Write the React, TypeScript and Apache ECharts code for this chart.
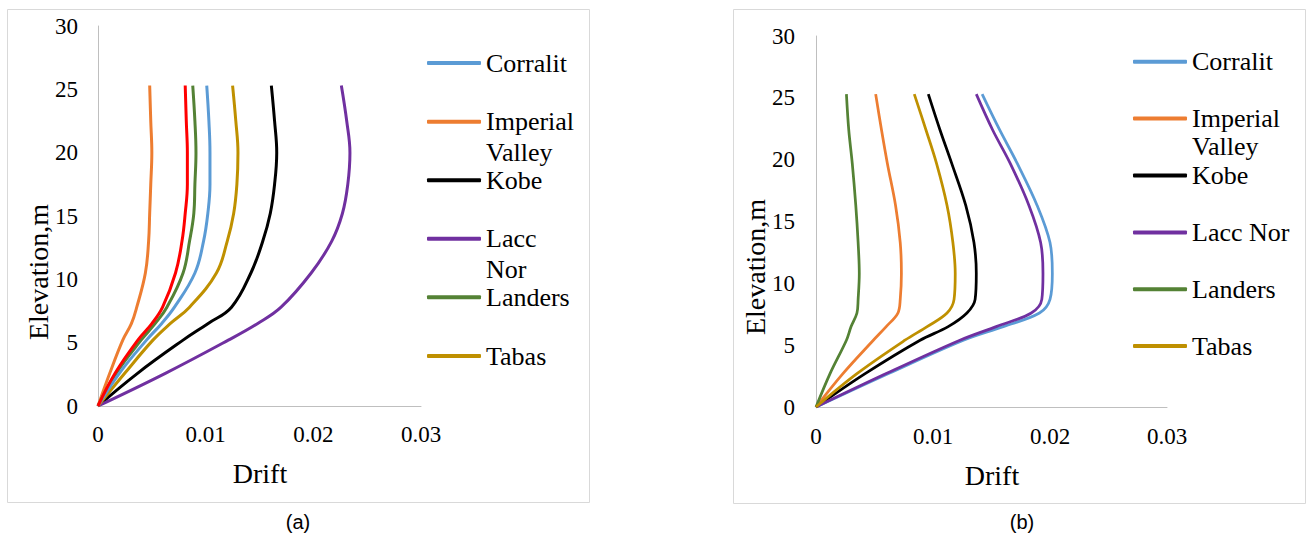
import React, { useEffect, useRef } from "react";
import * as echarts from "echarts";

const seriesNames = ["Corralit", "Imperial Valley", "Kobe", "Lacc Nor", "Landers", "Tabas"];
const seriesColors = ["#5B9BD5", "#ED7D31", "#000000", "#7030A0", "#548235", "#BF9000"];
const extraName = "Unlabeled";
const extraColor = "#FF0000";

const yTicks = { min: 0, max: 30, interval: 5 };
const xTicks = { min: 0, max: 0.03, interval: 0.01 };

// Chart (a)
const elevA = [0, 2.6, 5.2, 6.5, 7.8, 10.5, 13, 15.2, 17.5, 20, 22.5, 25.3];
const corralitA = [0, 0.002, 0.0045, 0.0059, 0.0071, 0.009, 0.0098, 0.0102, 0.0104, 0.0104, 0.0103, 0.0101];
const imperialA = [0, 0.0011, 0.0023, 0.0031, 0.0036, 0.0044, 0.0047, 0.0048, 0.0049, 0.005, 0.0049, 0.0048];
const kobeA = [0, 0.0037, 0.0079, 0.0102, 0.0124, 0.0142, 0.0153, 0.016, 0.0164, 0.0166, 0.0164, 0.0161];
const laccA = [0, 0.0063, 0.0121, 0.0148, 0.017, 0.0198, 0.0217, 0.0227, 0.0232, 0.0234, 0.0231, 0.0226];
const landersA = [0, 0.0017, 0.004, 0.0053, 0.0064, 0.0079, 0.0085, 0.0089, 0.009, 0.0091, 0.009, 0.0088];
const tabasA = [0, 0.0025, 0.0051, 0.0067, 0.0085, 0.011, 0.012, 0.0126, 0.0129, 0.013, 0.0128, 0.0125];
const redA = [0, 0.0016, 0.0037, 0.005, 0.006, 0.0072, 0.0078, 0.0081, 0.0083, 0.0083, 0.0082, 0.0081];

// Chart (b)
const elevB = [0, 2.7, 5.4, 6.5, 7.6, 8.7, 10.8, 13.3, 16.3, 19.7, 22.4, 25.3];
const corralitB = [0, 0.0062, 0.0126, 0.016, 0.0191, 0.02, 0.0202, 0.02, 0.0189, 0.0172, 0.0157, 0.0142];
const imperialB = [0, 0.0023, 0.0049, 0.006, 0.007, 0.0072, 0.0073, 0.0072, 0.0068, 0.0061, 0.0056, 0.0051];
const kobeB = [0, 0.0042, 0.0089, 0.0113, 0.0129, 0.0136, 0.0137, 0.0135, 0.0128, 0.0116, 0.0106, 0.0096];
const laccB = [0, 0.006, 0.0123, 0.0154, 0.0184, 0.0193, 0.0194, 0.0192, 0.0182, 0.0166, 0.0151, 0.0137];
const landersB = [0, 0.0012, 0.0026, 0.003, 0.0035, 0.0036, 0.0037, 0.0036, 0.0034, 0.0031, 0.0028, 0.0026];
const tabasB = [0, 0.0035, 0.0076, 0.0095, 0.0112, 0.0118, 0.0119, 0.0117, 0.0112, 0.0103, 0.0094, 0.0084];

const axisTitleX = "Drift";
const axisTitleY = "Elevation,m";
const captions = ["(a)", "(b)"];

const SERIF = "Liberation Serif";
const SANS = "Liberation Sans";

function pairs(xs: number[], ys: number[]) {
  return xs.map((x, i) => [x, ys[i]]);
}

export default function App() {
  const ref = useRef<HTMLDivElement>(null);
  useEffect(() => {
    if (!ref.current) return;
    const chart = echarts.init(ref.current, undefined, { renderer: "svg" });

    const dataA = [corralitA, imperialA, kobeA, laccA, landersA, tabasA];
    const dataB = [corralitB, imperialB, kobeB, laccB, landersB, tabasB];

    const mkAxes = (idx: number, xMargin: number, yMargin: number) => ({
      x: {
        type: "value",
        gridIndex: idx,
        ...xTicks,
        axisLine: { show: true, lineStyle: { color: "#BFBFBF", width: 1 } },
        axisTick: { show: false },
        splitLine: { show: false },
        axisLabel: {
          margin: xMargin,
          fontFamily: SERIF,
          fontSize: 23,
          color: "#000",
          formatter: (v: number) => String(+v.toFixed(3)),
        },
      },
      y: {
        type: "value",
        gridIndex: idx,
        ...yTicks,
        axisLine: { show: true, lineStyle: { color: "#BFBFBF", width: 1 } },
        axisTick: { show: false },
        splitLine: { show: false },
        axisLabel: { margin: yMargin, fontFamily: SERIF, fontSize: 23, color: "#000" },
      },
    });

    const axA = mkAxes(0, 17, 20);
    const axB = mkAxes(1, 18, 21);

    const series: any[] = [];
    seriesNames.forEach((n, i) => {
      series.push({
        type: "line",
        name: n,
        xAxisIndex: 0,
        yAxisIndex: 0,
        data: pairs(dataA[i], elevA),
        symbol: "none",
        showSymbol: false,
        smooth: 0.4,
        lineStyle: { color: seriesColors[i], width: 3 },
        itemStyle: { color: seriesColors[i] },
        z: i === 0 ? 3 : 2,
      });
    });
    series.push({
      type: "line",
      name: extraName,
      xAxisIndex: 0,
      yAxisIndex: 0,
      data: pairs(redA, elevA),
      symbol: "none",
      showSymbol: false,
      smooth: 0.4,
      lineStyle: { color: extraColor, width: 3 },
      itemStyle: { color: extraColor },
    });
    seriesNames.forEach((n, i) => {
      series.push({
        type: "line",
        name: n,
        xAxisIndex: 1,
        yAxisIndex: 1,
        data: pairs(dataB[i], elevB),
        symbol: "none",
        showSymbol: false,
        smooth: 0.35,
        lineStyle: { color: seriesColors[i], width: 2.75 },
        itemStyle: { color: seriesColors[i] },
        z: i === 0 ? 1 : 2,
      });
    });

    const legendCentersA = [63, 121.7, 180.3, 238.8, 297.3, 356];
    const legendCentersB = [61.7, 118.5, 175.6, 232.5, 289.2, 346];
    const wrapA = [["Corralit"], ["Imperial", "Valley"], ["Kobe"], ["Lacc", "Nor"], ["Landers"], ["Tabas"]];
    const wrapB = [["Corralit"], ["Imperial", "Valley"], ["Kobe"], ["Lacc Nor"], ["Landers"], ["Tabas"]];
    const legends: any[] = [];
    const addLegends = (left: number, centers: number[], labels: string[][], LH: number) => {
      const rich = { s: { fontFamily: SERIF, fontSize: 26, color: "#000", lineHeight: LH } };
      seriesNames.forEach((n, i) => {
        const wrapped = labels[i].length > 1;
        const txt = labels[i].map((w) => "{s|" + w + "}").join("\n");
        legends.push({
          data: [n],
          left,
          top: centers[i] - (wrapped ? 1.5 * LH : LH / 2),
          orient: "vertical",
          padding: 0,
          itemGap: 0,
          itemWidth: 54,
          itemHeight: 4,
          icon: "roundRect",
          selectedMode: false,
          formatter: () => txt,
          textStyle: {
            fontFamily: SERIF,
            fontSize: 26,
            color: "#000",
            lineHeight: LH,
            rich,
            padding: wrapped ? [LH, 0, 0, 0] : 0,
          },
        });
      });
    };
    addLegends(427, legendCentersA, wrapA, 31);
    addLegends(1133, legendCentersB, wrapB, 28);

    const yTitle = (x: number, y: number) => ({
      type: "text",
      x,
      y,
      rotation: Math.PI / 2,
      style: {
        text: axisTitleY,
        fontFamily: SERIF,
        fontSize: 28,
        fill: "#000",
        align: "center",
        verticalAlign: "middle",
      },
    });
    const xTitle = (x: number, y: number) => ({
      type: "text",
      x,
      y,
      style: {
        text: axisTitleX,
        fontFamily: SERIF,
        fontSize: 28,
        fill: "#000",
        align: "center",
        verticalAlign: "middle",
      },
    });
    const caption = (x: number, text: string) => ({
      type: "text",
      x,
      y: 522,
      style: {
        text,
        fontFamily: SANS,
        fontSize: 20,
        fill: "#000",
        align: "center",
        verticalAlign: "middle",
      },
    });

    chart.setOption({
      animation: false,
      backgroundColor: "#ffffff",
      textStyle: { fontFamily: SERIF },
      grid: [
        { left: 98, top: 26, width: 323, height: 380 },
        { left: 816, top: 36, width: 351, height: 371 },
      ],
      xAxis: [axA.x, axB.x],
      yAxis: [axA.y, axB.y],
      legend: legends,
      series,
      graphic: [
        {
          type: "rect",
          shape: { x: 7.5, y: 9.5, width: 582, height: 493 },
          style: { fill: "none", stroke: "#D9D9D9", lineWidth: 1 },
          z: -1,
        },
        {
          type: "rect",
          shape: { x: 733.5, y: 9.5, width: 572, height: 494 },
          style: { fill: "none", stroke: "#D9D9D9", lineWidth: 1 },
          z: -1,
        },
        yTitle(38, 272),
        yTitle(755, 267),
        xTitle(260, 473),
        xTitle(992, 475),
        caption(298, captions[0]),
        caption(1022, captions[1]),
      ],
    });
    return () => chart.dispose();
  }, []);
  return (
    <div
      ref={ref}
      style={{ position: "fixed", left: 0, top: 0, width: 1307, height: 535, background: "#fff" }}
    />
  );
}
